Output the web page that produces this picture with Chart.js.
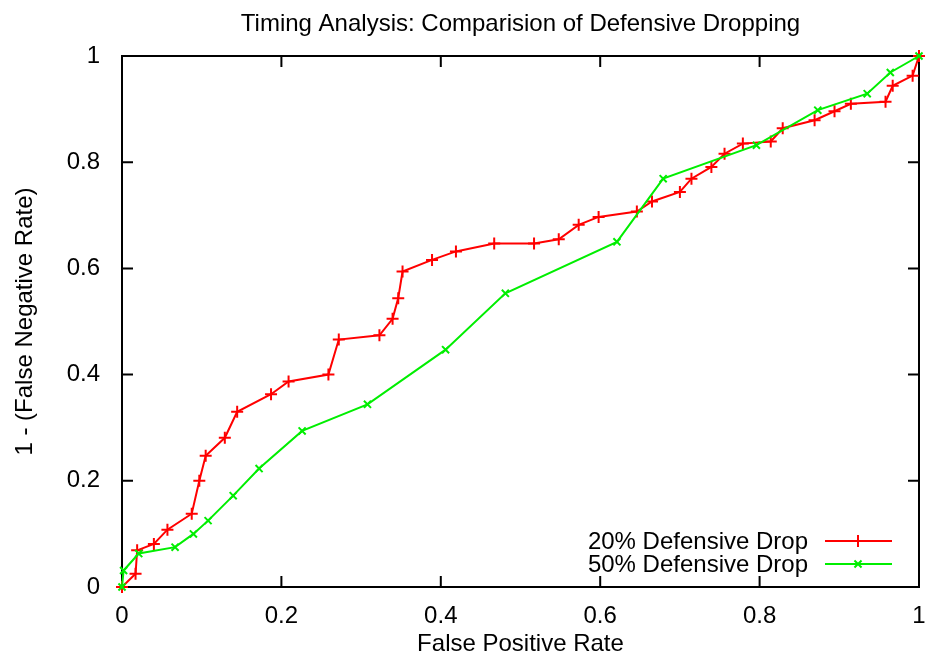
<!DOCTYPE html>
<html>
<head>
<meta charset="utf-8">
<title>Timing Analysis</title>
<script src="https://cdn.jsdelivr.net/npm/chart.js@4.4.1/dist/chart.umd.min.js"></script>
<style>
  html, body { margin: 0; padding: 0; background: #fff; }
  #wrap { width: 927px; height: 662px; }
</style>
</head>
<body>
<div id="wrap"><canvas id="myChart" width="927" height="662"></canvas></div>
<script>
// data
const titleText = 'Timing Analysis: Comparision of Defensive Dropping';
const xLabel = 'False Positive Rate';
const yLabel = '1 - (False Negative Rate)';
const seriesNames = ['20% Defensive Drop', '50% Defensive Drop'];

const red_x = [0, 0.017, 0.019, 0.040, 0.057, 0.0875, 0.097, 0.105, 0.129, 0.1445, 0.187, 0.209, 0.259, 0.272, 0.323, 0.3395, 0.3466, 0.352, 0.389, 0.419, 0.467, 0.517, 0.548, 0.573, 0.598, 0.646, 0.665, 0.700, 0.7145, 0.7395, 0.756, 0.779, 0.814, 0.829, 0.869, 0.894, 0.9145, 0.958, 0.967, 0.992, 1];
const red_y = [0, 0.025, 0.069, 0.081, 0.108, 0.138, 0.200, 0.247, 0.281, 0.330, 0.363, 0.387, 0.400, 0.466, 0.474, 0.505, 0.544, 0.594, 0.616, 0.632, 0.647, 0.647, 0.655, 0.682, 0.697, 0.707, 0.726, 0.744, 0.769, 0.791, 0.816, 0.835, 0.839, 0.864, 0.879, 0.896, 0.910, 0.914, 0.944, 0.963, 1];

const green_x = [0, 0.002, 0.021, 0.0666, 0.0896, 0.108, 0.1395, 0.172, 0.226, 0.308, 0.406, 0.481, 0.621, 0.679, 0.796, 0.873, 0.935, 0.964, 1];
const green_y = [0, 0.031, 0.063, 0.075, 0.100, 0.125, 0.172, 0.223, 0.294, 0.344, 0.447, 0.553, 0.650, 0.769, 0.832, 0.898, 0.929, 0.969, 1];

const tickStep = 0.2;

const RED = '#ff0000';
const GREEN = '#00ee00';
const FONT = "'Liberation Sans', Arial, sans-serif";

Chart.defaults.font.family = FONT;
Chart.defaults.font.size = 24;
Chart.defaults.color = '#000';

function toPoints(xs, ys) {
    return xs.map(function(x, i) { return { x: x, y: ys[i] }; });
}

// gnuplot style tick text: 0, 0.2 ... 1
function tickText(value) {
    return String(Math.round(value * 10) / 10);
}

// gnuplot-like frame: box plus inward ticks on all four sides
const framePlugin = {
    id: 'frame',
    beforeDatasetsDraw(chart) {
        const ctx = chart.ctx;
        const a = chart.chartArea;
        const xs = chart.scales.x, ys = chart.scales.y;
        const tl = 11;
        ctx.save();
        ctx.strokeStyle = '#000';
        ctx.lineWidth = 2;
        ctx.strokeRect(a.left, a.top, a.right - a.left, a.bottom - a.top);
        ctx.beginPath();
        xs.ticks.forEach(function(t) {
            const px = xs.getPixelForValue(t.value);
            ctx.moveTo(px, a.bottom); ctx.lineTo(px, a.bottom - tl);
            ctx.moveTo(px, a.top); ctx.lineTo(px, a.top + tl);
        });
        ys.ticks.forEach(function(t) {
            const py = ys.getPixelForValue(t.value);
            ctx.moveTo(a.left, py); ctx.lineTo(a.left + tl, py);
            ctx.moveTo(a.right, py); ctx.lineTo(a.right - tl, py);
        });
        ctx.stroke();
        ctx.restore();
    },
    afterDraw(chart) {
        const ctx = chart.ctx;
        const a = chart.chartArea;
        ctx.save();
        // title
        ctx.fillStyle = '#000';
        ctx.font = '24px ' + FONT;
        ctx.textAlign = 'center';
        ctx.textBaseline = 'alphabetic';
        ctx.fillText(titleText, (a.left + a.right) / 2, 31);
        // legend, bottom right inside the plot
        const rows = [549, 572];
        chart.data.datasets.forEach(function(ds, i) {
            const yb = rows[i];
            const ym = yb - 8;
            ctx.textAlign = 'right';
            ctx.fillStyle = '#000';
            ctx.fillText(ds.label, 808, yb);
            ctx.strokeStyle = ds.borderColor;
            ctx.lineWidth = 2;
            ctx.beginPath();
            ctx.moveTo(825, ym); ctx.lineTo(892, ym);
            ctx.stroke();
            Chart.helpers.drawPoint(ctx, {
                pointStyle: ds.pointStyle,
                radius: ds.pointRadius,
                borderWidth: 2,
                rotation: 0
            }, 858, ym);
        });
        ctx.restore();
    }
};

const data = {
    datasets: [{
        label: seriesNames[0],
        data: toPoints(red_x, red_y),
        borderColor: RED,
        backgroundColor: RED,
        borderWidth: 2,
        pointStyle: 'cross',
        pointRadius: 6,
        pointBorderWidth: 2,
        tension: 0,
        clip: 8,
        order: 2
    },
    {
        label: seriesNames[1],
        data: toPoints(green_x, green_y),
        borderColor: GREEN,
        backgroundColor: GREEN,
        borderWidth: 2,
        pointStyle: 'crossRot',
        pointRadius: 5,
        pointBorderWidth: 2,
        tension: 0,
        clip: 8,
        order: 1
    }]
};

const config = {
    type: 'line',
    data,
    options: {
        responsive: false,
        animation: false,
        devicePixelRatio: 1,
        layout: { padding: { top: 56, right: 6, left: 0, bottom: 0 } },
        plugins: {
            legend: { display: false },
            title: { display: false },
            tooltip: { enabled: false }
        },
        scales: {
            x: {
                type: 'linear',
                min: 0, max: 1,
                ticks: { stepSize: tickStep, padding: 7, maxRotation: 0, font: { size: 24 }, callback: tickText },
                grid: { display: false },
                border: { display: false },
                title: { display: true, text: xLabel, font: { size: 24 }, padding: { top: 0, bottom: 3 } },
                afterFit: function(s) { s.height = 75; s.paddingLeft = 0; s.paddingRight = 0; }
            },
            y: {
                type: 'linear',
                min: 0, max: 1,
                ticks: { stepSize: tickStep, padding: 14, font: { size: 24 }, callback: tickText },
                grid: { display: false },
                border: { display: false },
                title: { display: true, text: yLabel, font: { size: 24 }, padding: { top: 11, bottom: 0 } },
                afterFit: function(s) { s.width = 122; }
            }
        }
    },
    plugins: [framePlugin]
};

const myChart = new Chart(document.getElementById('myChart'), config);
</script>
</body>
</html>
